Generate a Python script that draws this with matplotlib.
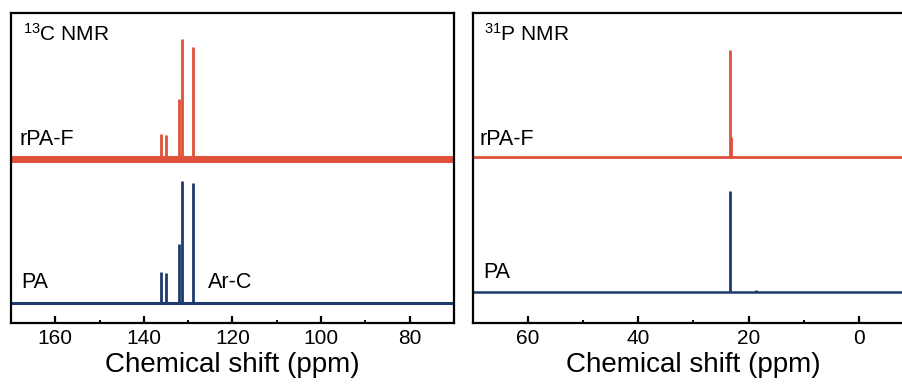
import matplotlib
matplotlib.use("Agg")
import matplotlib.pyplot as plt
from matplotlib.ticker import MultipleLocator

plt.rcParams['font.family'] = ['Liberation Sans', 'DejaVu Sans']
plt.rcParams['mathtext.fontset'] = 'custom'
plt.rcParams['mathtext.rm'] = 'Liberation Sans'

RED = '#E0503A'
BLUE = '#1D3B6C'

# ---- 13C NMR data (ppm, relative intensity) ----
c_peaks_ppm = [136.2, 134.9, 132.0, 131.4, 129.0]
c_rpaf_int = [25, 24, 60, 120, 112]
c_pa_int = [31, 30, 59, 122, 120]
c_rpaf_offset = 164
c_pa_offset = 20

# ---- 31P NMR data ----
p_rpaf_ppm = [23.3, 23.1]
p_rpaf_int = [107, 20]
p_pa_ppm = [23.4, 18.6]
p_pa_int = [101, 2]
p_rpaf_offset = 166
p_pa_offset = 31

W, H = 903, 385
fig = plt.figure(figsize=(W / 100, H / 100), dpi=100)

def px_axes(x0, x1, ytop, ybot):
    return fig.add_axes([x0 / W, (H - ybot) / H, (x1 - x0) / W, (ybot - ytop) / H])

axC = px_axes(11, 454, 13, 323)
axP = px_axes(472.7, 914, 13, 323)

def style(ax):
    for s in ax.spines.values():
        s.set_linewidth(1.6)
    ax.set_yticks([])
    ax.set_ylim(0, 310)
    ax.xaxis.set_major_locator(MultipleLocator(20))
    ax.xaxis.set_minor_locator(MultipleLocator(10))
    ax.tick_params(axis='x', which='major', direction='in', length=5, width=1.6,
                   labelsize=15, pad=4, top=False)
    ax.tick_params(axis='x', which='minor', direction='in', length=2.5, width=1.4, top=False)
    ax.set_xlabel('Chemical shift (ppm)', fontsize=20, labelpad=3)

# 13C panel
axC.set_xlim(170, 70)
axC.axhline(c_rpaf_offset, color=RED, lw=5.0, zorder=2)
axC.vlines(c_peaks_ppm, c_rpaf_offset, [c_rpaf_offset + v for v in c_rpaf_int],
           color=RED, lw=2.0, zorder=3)
axC.axhline(c_pa_offset, color=BLUE, lw=2.2, zorder=2)
axC.vlines(c_peaks_ppm, c_pa_offset, [c_pa_offset + v for v in c_pa_int],
           color=BLUE, lw=2.0, zorder=3)
style(axC)
axC.text(167.2, 282, r'$\mathregular{^{13}}$C NMR', fontsize=15, va='baseline')
axC.text(168.1, 178, 'rPA-F', fontsize=15.5, va='baseline')
axC.text(167.7, 35, 'PA', fontsize=15.5, va='baseline')
axC.text(125.5, 35, 'Ar-C', fontsize=15.5, va='baseline')

# 31P panel
axP.set_xlim(70, -10)
axP.axhline(p_rpaf_offset, color=RED, lw=2.0, zorder=2)
axP.vlines(p_rpaf_ppm, p_rpaf_offset, [p_rpaf_offset + v for v in p_rpaf_int],
           color=RED, lw=2.0, zorder=3)
axP.axhline(p_pa_offset, color=BLUE, lw=1.8, zorder=2)
axP.vlines(p_pa_ppm, p_pa_offset, [p_pa_offset + v for v in p_pa_int],
           color=BLUE, lw=2.0, zorder=3)
style(axP)
axP.text(68.0, 282, r'$\mathregular{^{31}}$P NMR', fontsize=15, va='baseline')
axP.text(68.7, 178, 'rPA-F', fontsize=15.5, va='baseline')
axP.text(68.0, 45, 'PA', fontsize=15.5, va='baseline')

fig.savefig('out.png', dpi=100)
